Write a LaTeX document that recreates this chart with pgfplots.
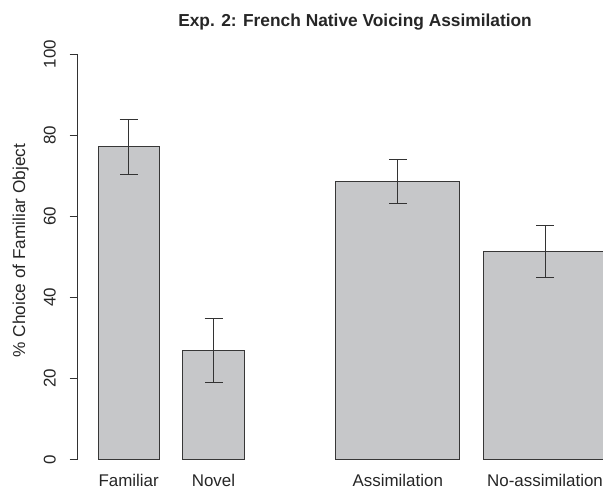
\documentclass[border=0pt]{standalone}
\usepackage{fontspec}
\setmainfont{Liberation Sans}
\usepackage{pgfplots}
\pgfplotsset{compat=1.18}
\definecolor{barfill}{RGB}{198,199,201}
\definecolor{bardraw}{RGB}{55,55,55}
\definecolor{axisgray}{RGB}{50,50,50}
\pgfplotstableread{
x y ep em
128.7 77.1 6.8 6.7
213.5 26.9 7.9 8.0
}\narrowbars
\pgfplotstableread{
x y ep em
397.8 68.6 5.4 5.4
545.0 51.2 6.6 6.4
}\widebars
\begin{document}
\begin{tikzpicture}
\path[use as bounding box] (0,0) rectangle (603bp,491bp);
\begin{axis}[
  at={(77.7bp,31.5bp)}, anchor=south west,
  scale only axis, width=525.3bp, height=405.5bp,
  xmin=77.7, xmax=603, ymin=0, ymax=100,
  axis y line=left, axis x line=bottom,
  x axis line style={draw=none},
  y axis line style={-, draw=axisgray, line width=0.9bp},
  major x tick style={draw=none},
  major y tick style={draw=axisgray, line width=0.9bp},
  tick align=outside, major tick length=8bp,
  ytick={0,20,40,60,80,100},
  xtick={128.7,213.5,397.8,545},
  xticklabels={Familiar,Novel,Assimilation,No-assimilation},
  /pgf/number format/assume math mode=true,
  tick label style={font=\fontsize{17}{20}\selectfont, text=black!85},
  yticklabel style={rotate=90, anchor=base, inner sep=0pt},
  yticklabel shift=14bp,
  xticklabel style={anchor=base, inner sep=0pt},
  xticklabel shift=19.5bp,
  title={Exp. 2: French Native Voicing Assimilation},
  title style={at={(0.528,1)}, anchor=base, yshift=22bp, inner sep=0pt, font=\fontsize{17.4}{20}\selectfont\bfseries, text=black!85},
  ylabel={\% Choice of Familiar Object},
  ylabel style={at={(rel axis cs:-0.1003,0.5154)}, anchor=base, inner sep=0pt, font=\fontsize{17.3}{20}\selectfont, text=black!85},
]
\addplot[ybar, bar shift=0pt, bar width=61.4, fill=barfill, draw=bardraw, line width=0.9bp,
  error bars/.cd, y dir=both, y explicit,
  error bar style={draw=black!80, line width=0.9bp},
  error mark options={rotate=90, draw=black!80, line width=0.9bp, mark size=9bp}]
table[x=x, y=y, y error plus=ep, y error minus=em] {\narrowbars};
\addplot[ybar, bar shift=0pt, bar width=124, fill=barfill, draw=bardraw, line width=0.9bp,
  error bars/.cd, y dir=both, y explicit,
  error bar style={draw=black!80, line width=0.9bp},
  error mark options={rotate=90, draw=black!80, line width=0.9bp, mark size=9bp}]
table[x=x, y=y, y error plus=ep, y error minus=em] {\widebars};
\end{axis}
\end{tikzpicture}
\end{document}
